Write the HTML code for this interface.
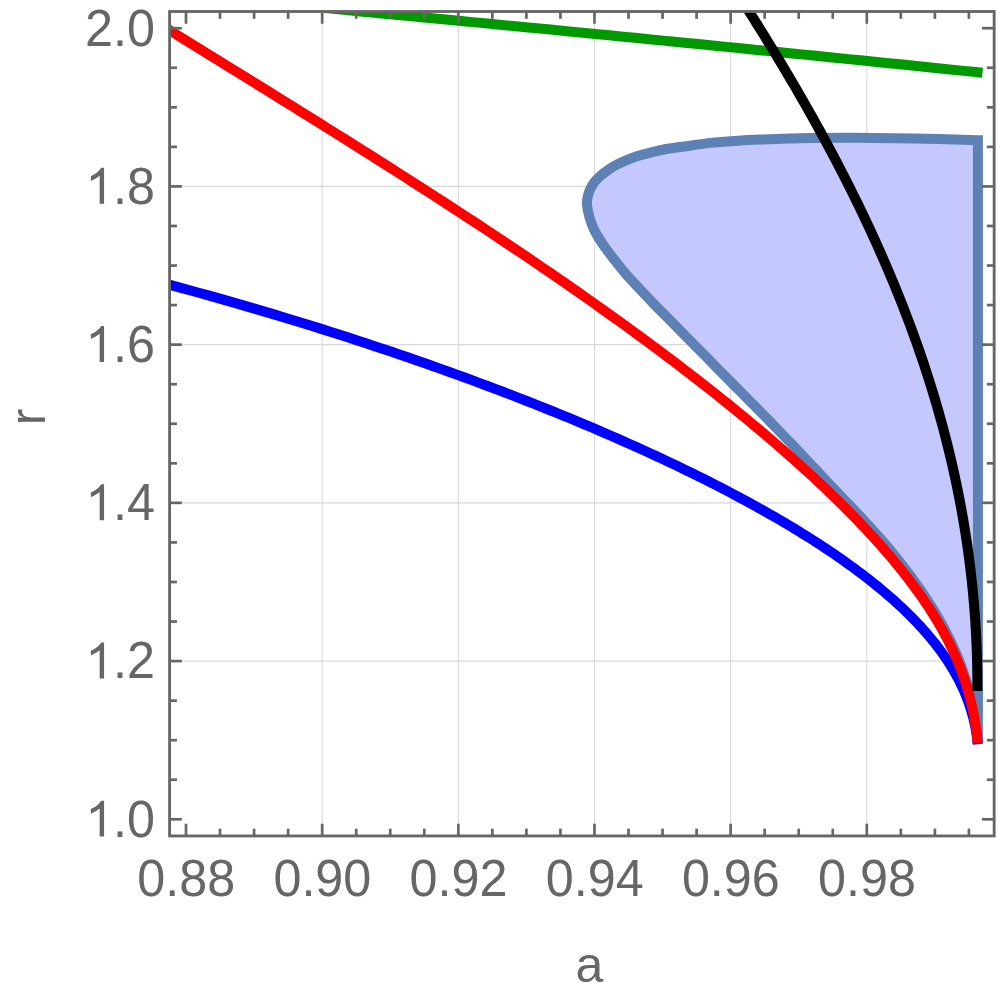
<!DOCTYPE html>
<html><head><meta charset="utf-8"><title>plot</title>
<style>
html,body{margin:0;padding:0;background:#fff;}
body{width:997px;height:997px;overflow:hidden;position:relative;font-family:"Liberation Sans",sans-serif;}
svg{position:absolute;left:0;top:0;display:block}
text{font-family:"Liberation Sans",sans-serif;fill:#666;}
</style></head><body>
<svg width="997" height="997" viewBox="0 0 997 997">
<defs><clipPath id="pc"><rect x="169.60" y="11.50" width="824.55" height="824.45"/></clipPath></defs>
<rect width="997" height="997" fill="#fff"/>
<g stroke="#d8d8d8" stroke-width="1.1"><line x1="322.16" y1="11.50" x2="322.16" y2="835.95"/><line x1="458.32" y1="11.50" x2="458.32" y2="835.95"/><line x1="594.48" y1="11.50" x2="594.48" y2="835.95"/><line x1="730.64" y1="11.50" x2="730.64" y2="835.95"/><line x1="866.80" y1="11.50" x2="866.80" y2="835.95"/><line x1="169.60" y1="186.42" x2="994.15" y2="186.42"/><line x1="169.60" y1="344.64" x2="994.15" y2="344.64"/><line x1="169.60" y1="502.86" x2="994.15" y2="502.86"/><line x1="169.60" y1="661.08" x2="994.15" y2="661.08"/></g>
<g clip-path="url(#pc)" fill="none" stroke-linejoin="miter" stroke-linecap="butt">
<path d="M977.90 140.20 C967.42 139.92 935.87 138.92 915.00 138.50 C894.13 138.08 870.20 137.78 852.70 137.70 C835.20 137.62 825.35 137.68 810.00 138.00 C794.65 138.32 773.10 139.12 760.60 139.60 C748.10 140.08 743.35 140.36 735.00 140.90 C726.65 141.44 718.00 142.05 710.50 142.85 C703.00 143.65 697.58 144.64 690.00 145.70 C682.42 146.76 671.77 148.02 665.00 149.20 C658.23 150.38 653.97 151.65 649.40 152.80 C644.83 153.95 641.48 154.83 637.60 156.10 C633.72 157.37 629.95 158.77 626.10 160.40 C622.25 162.03 617.77 164.12 614.50 165.90 C611.23 167.68 609.08 169.23 606.50 171.10 C603.92 172.97 601.08 175.15 599.00 177.10 C596.92 179.05 595.47 180.78 594.00 182.80 C592.53 184.82 591.18 187.13 590.20 189.20 C589.22 191.27 588.65 192.92 588.10 195.20 C587.55 197.48 586.88 200.10 586.90 202.90 C586.92 205.70 587.57 208.95 588.20 212.00 C588.83 215.05 589.67 218.15 590.70 221.20 C591.73 224.25 592.90 227.25 594.40 230.30 C595.90 233.35 597.75 236.40 599.70 239.50 C601.65 242.60 603.83 245.75 606.10 248.90 C608.37 252.05 610.12 254.35 613.30 258.40 C616.48 262.45 620.67 267.98 625.17 273.19 C629.67 278.40 637.78 286.91 640.30 289.66 L647.82 297.66 L655.35 305.46 L662.86 313.09 L670.31 320.60 L677.68 328.05 L684.97 335.42 L692.18 342.70 L699.31 349.91 L706.36 357.05 L713.31 364.13 L720.18 371.13 L726.98 378.05 L733.72 384.86 L740.40 391.58 L746.99 398.23 L753.51 404.81 L759.93 411.33 L766.27 417.79 L772.51 424.19 L778.66 430.54 L784.71 436.84 L790.68 443.07 L796.57 449.24 L802.37 455.35 L808.08 461.40 L813.72 467.37 L819.27 473.29 L824.73 479.16 L830.14 484.93 L835.55 490.57 L840.90 496.12 L846.18 501.61 L851.37 507.05 L856.48 512.44 L861.51 517.78 L866.45 523.09 L871.27 528.38 L875.98 533.65 L880.58 538.90 L885.08 544.13 L889.48 549.34 L893.76 554.54 L897.95 559.71 L902.02 564.86 L906.00 570.00 L909.86 575.12 L913.63 580.22 L917.28 585.32 L920.84 590.40 L924.29 595.47 L927.63 600.53 L930.87 605.59 L934.00 610.64 L937.03 615.70 L939.95 620.75 L942.76 625.80 L945.47 630.86 L948.07 635.92 L950.57 640.99 L952.96 646.07 L955.24 651.17 L957.41 656.28 L959.47 661.42 L961.43 666.57 L963.27 671.75 L965.01 676.96 L966.64 682.20 L968.17 687.47 L969.59 692.78 L970.91 698.12 L972.13 703.52 L973.25 708.96 L974.26 714.45 L975.19 720.00 L976.01 725.61 L976.74 731.28 L977.37 737.03 L977.90 742.85 L977.9 742.8 L977.9 140.2 Z" fill="#c5c8fe" stroke="#5e81b5" stroke-width="10" stroke-miterlimit="10"/>
<path d="M150.00 279.62 L160.03 282.27 L170.00 284.92 L179.91 287.60 L189.75 290.28 L199.54 292.97 L209.26 295.68 L218.92 298.39 L228.53 301.12 L238.07 303.86 L247.55 306.60 L256.97 309.36 L266.32 312.12 L275.62 314.89 L284.86 317.68 L294.03 320.47 L303.14 323.26 L312.20 326.07 L321.19 328.88 L330.12 331.70 L338.99 334.53 L347.79 337.36 L356.54 340.20 L365.23 343.04 L373.85 345.89 L382.41 348.74 L390.92 351.60 L399.36 354.47 L407.74 357.34 L416.06 360.21 L424.31 363.09 L432.51 365.97 L440.65 368.85 L448.72 371.74 L456.74 374.63 L464.69 377.53 L472.58 380.42 L480.41 383.32 L488.18 386.22 L495.89 389.13 L503.54 392.03 L511.12 394.94 L518.65 397.85 L526.11 400.76 L533.51 403.67 L540.86 406.58 L548.14 409.49 L555.36 412.41 L562.51 415.32 L569.61 418.24 L576.65 421.15 L583.62 424.07 L590.54 426.98 L597.39 429.90 L604.18 432.81 L610.91 435.73 L617.58 438.64 L624.19 441.55 L630.74 444.47 L637.23 447.38 L643.65 450.29 L650.02 453.20 L656.32 456.11 L662.56 459.02 L668.74 461.93 L674.86 464.83 L680.92 467.74 L686.92 470.64 L692.85 473.55 L698.73 476.45 L704.55 479.35 L710.30 482.25 L715.99 485.14 L721.62 488.04 L727.19 490.93 L732.70 493.82 L738.15 496.71 L743.54 499.60 L748.86 502.49 L754.13 505.38 L759.33 508.26 L764.47 511.14 L769.55 514.03 L774.58 516.91 L779.53 519.78 L784.43 522.66 L789.27 525.54 L794.05 528.41 L798.76 531.29 L803.41 534.16 L808.01 537.03 L812.54 539.90 L817.01 542.77 L821.42 545.64 L825.77 548.50 L830.06 551.37 L834.28 554.23 L838.45 557.10 L842.55 559.96 L846.59 562.83 L850.58 565.69 L854.50 568.56 L858.36 571.42 L862.15 574.28 L865.89 577.15 L869.57 580.01 L873.18 582.88 L876.74 585.74 L880.23 588.61 L883.66 591.48 L887.04 594.35 L890.34 597.22 L893.59 600.09 L896.78 602.96 L899.91 605.84 L902.97 608.72 L905.98 611.59 L908.92 614.48 L911.80 617.36 L914.63 620.25 L917.39 623.14 L920.08 626.03 L922.72 628.93 L925.30 631.83 L927.82 634.73 L930.27 637.64 L932.66 640.56 L935.00 643.47 L937.27 646.40 L939.48 649.32 L941.63 652.26 L943.72 655.20 L945.74 658.14 L947.71 661.09 L949.61 664.05 L951.46 667.01 L953.24 669.98 L954.96 672.96 L956.62 675.95 L958.22 678.94 L959.76 681.95 L961.24 684.96 L962.65 687.98 L964.01 691.01 L965.30 694.05 L966.54 697.10 L967.71 700.16 L968.82 703.23 L969.87 706.31 L970.86 709.40 L971.78 712.50 L972.65 715.62 L973.46 718.75 L974.20 721.89 L974.88 725.04 L975.51 728.21 L976.07 731.39 L976.57 734.59 L977.01 737.80 L977.38 741.03 L977.70 744.27" stroke="#0000ff" stroke-width="10"/>
<path d="M150.00 18.04 L159.91 24.20 L169.77 30.32 L179.56 36.40 L189.30 42.44 L198.97 48.44 L208.59 54.39 L218.14 60.31 L227.64 66.19 L237.08 72.03 L246.45 77.84 L255.77 83.61 L265.03 89.35 L274.23 95.05 L283.36 100.73 L292.44 106.37 L301.46 111.98 L310.42 117.56 L319.32 123.11 L328.16 128.63 L336.94 134.13 L345.66 139.60 L354.33 145.04 L362.93 150.45 L371.47 155.84 L379.95 161.21 L388.37 166.55 L396.74 171.86 L405.04 177.15 L413.29 182.42 L421.47 187.67 L429.59 192.90 L437.66 198.10 L445.67 203.28 L453.61 208.44 L461.50 213.58 L469.32 218.70 L477.09 223.80 L484.80 228.87 L492.45 233.93 L500.03 238.97 L507.56 243.99 L515.03 248.99 L522.44 253.97 L529.79 258.94 L537.08 263.88 L544.31 268.81 L551.48 273.71 L558.59 278.60 L565.64 283.48 L572.64 288.33 L579.57 293.17 L586.44 297.98 L593.25 302.78 L600.01 307.57 L606.70 312.33 L613.33 317.08 L619.91 321.81 L626.42 326.52 L632.88 331.22 L639.27 335.90 L645.61 340.56 L651.89 345.20 L658.10 349.83 L664.26 354.44 L670.36 359.03 L676.39 363.60 L682.37 368.16 L688.29 372.70 L694.15 377.22 L699.95 381.72 L705.69 386.21 L711.37 390.68 L716.99 395.13 L722.55 399.57 L728.05 403.98 L733.49 408.39 L738.87 412.77 L744.20 417.13 L749.46 421.48 L754.66 425.81 L759.81 430.13 L764.89 434.42 L769.91 438.70 L774.88 442.96 L779.78 447.21 L784.63 451.43 L789.41 455.65 L794.14 459.84 L798.81 464.02 L803.41 468.17 L807.96 472.32 L812.45 476.44 L816.87 480.55 L821.24 484.65 L825.55 488.73 L829.80 492.79 L833.99 496.83 L838.12 500.86 L842.19 504.88 L846.20 508.88 L850.15 512.86 L854.04 516.84 L857.87 520.79 L861.64 524.73 L865.36 528.66 L869.01 532.58 L872.60 536.48 L876.13 540.37 L879.61 544.24 L883.02 548.11 L886.38 551.96 L889.67 555.80 L892.91 559.63 L896.08 563.46 L899.20 567.27 L902.26 571.07 L905.25 574.87 L908.19 578.65 L911.07 582.43 L913.88 586.20 L916.64 589.97 L919.34 593.73 L921.98 597.49 L924.56 601.24 L927.08 604.99 L929.54 608.74 L931.94 612.49 L934.28 616.24 L936.56 619.98 L938.78 623.73 L940.94 627.48 L943.05 631.24 L945.09 634.99 L947.07 638.76 L949.00 642.53 L950.86 646.31 L952.66 650.09 L954.41 653.89 L956.09 657.70 L957.72 661.52 L959.28 665.35 L960.79 669.20 L962.24 673.07 L963.62 676.95 L964.95 680.86 L966.22 684.78 L967.42 688.73 L968.57 692.70 L969.66 696.70 L970.69 700.72 L971.66 704.78 L972.57 708.86 L973.42 712.98 L974.21 717.13 L974.94 721.32 L975.61 725.55 L976.22 729.81 L976.78 734.12 L977.27 738.47 L977.70 742.87" stroke="#ff0000" stroke-width="10"/>
<path d="M250.00 1.14 C253.13 1.43 262.52 2.30 268.78 2.88 C275.04 3.46 281.30 4.04 287.56 4.63 C293.82 5.21 300.09 5.79 306.35 6.38 C312.61 6.96 318.87 7.55 325.13 8.13 C331.39 8.72 337.65 9.31 343.91 9.89 C350.17 10.48 356.43 11.07 362.69 11.66 C368.95 12.25 375.21 12.84 381.47 13.43 C387.74 14.02 394.00 14.62 400.26 15.21 C406.52 15.80 412.78 16.40 419.04 16.99 C425.30 17.58 431.56 18.18 437.82 18.78 C444.08 19.37 450.34 19.97 456.60 20.57 C462.86 21.17 469.12 21.76 475.38 22.36 C481.65 22.96 487.91 23.56 494.17 24.17 C500.43 24.77 506.69 25.37 512.95 25.97 C519.21 26.58 525.47 27.18 531.73 27.78 C537.99 28.39 544.25 29.00 550.51 29.60 C556.77 30.21 563.03 30.82 569.29 31.42 C575.56 32.03 581.82 32.64 588.08 33.25 C594.34 33.86 600.60 34.47 606.86 35.08 C613.12 35.69 619.38 36.31 625.64 36.92 C631.90 37.53 638.16 38.15 644.42 38.76 C650.68 39.38 656.94 39.99 663.21 40.61 C669.47 41.23 675.73 41.84 681.99 42.46 C688.25 43.08 694.51 43.70 700.77 44.32 C707.03 44.94 713.29 45.56 719.55 46.18 C725.81 46.80 732.07 47.43 738.33 48.05 C744.59 48.67 750.85 49.30 757.12 49.92 C763.38 50.55 769.64 51.17 775.90 51.80 C782.16 52.43 788.42 53.05 794.68 53.68 C800.94 54.31 807.20 54.94 813.46 55.57 C819.72 56.20 825.98 56.83 832.24 57.46 C838.50 58.09 844.76 58.73 851.03 59.36 C857.29 59.99 863.55 60.63 869.81 61.26 C876.07 61.90 882.33 62.53 888.59 63.17 C894.85 63.81 901.11 64.44 907.37 65.08 C913.63 65.72 919.89 66.36 926.15 67.00 C932.41 67.64 938.68 68.28 944.94 68.92 C951.20 69.57 957.46 70.21 963.72 70.85 C969.98 71.50 979.37 72.46 982.50 72.79" stroke="#009900" stroke-width="10"/>
<path d="M738.52 -5.00 L742.28 0.85 L746.02 6.70 L749.74 12.55 L753.43 18.39 L757.11 24.24 L760.76 30.09 L764.39 35.94 L768.00 41.79 L771.58 47.64 L775.14 53.49 L778.68 59.34 L782.19 65.18 L785.68 71.03 L789.15 76.88 L792.59 82.73 L796.01 88.58 L799.40 94.43 L802.76 100.28 L806.10 106.13 L809.41 111.97 L812.70 117.82 L815.96 123.67 L819.19 129.52 L822.39 135.37 L825.57 141.22 L828.72 147.07 L831.84 152.92 L834.93 158.76 L838.00 164.61 L841.03 170.46 L844.04 176.31 L847.02 182.16 L849.96 188.01 L852.88 193.86 L855.77 199.71 L858.62 205.55 L861.45 211.40 L864.25 217.25 L867.01 223.10 L869.75 228.95 L872.45 234.80 L875.12 240.65 L877.76 246.50 L880.37 252.34 L882.94 258.19 L885.48 264.04 L887.99 269.89 L890.47 275.74 L892.92 281.59 L895.33 287.44 L897.71 293.29 L900.06 299.13 L902.37 304.98 L904.65 310.83 L906.89 316.68 L909.11 322.53 L911.28 328.38 L913.43 334.23 L915.54 340.08 L917.61 345.92 L919.65 351.77 L921.66 357.62 L923.63 363.47 L925.57 369.32 L927.47 375.17 L929.34 381.02 L931.17 386.87 L932.97 392.71 L934.73 398.56 L936.46 404.41 L938.15 410.26 L939.80 416.11 L941.42 421.96 L943.01 427.81 L944.56 433.66 L946.07 439.50 L947.55 445.35 L948.99 451.20 L950.40 457.05 L951.77 462.90 L953.11 468.75 L954.41 474.60 L955.67 480.45 L956.90 486.29 L958.09 492.14 L959.24 497.99 L960.36 503.84 L961.45 509.69 L962.50 515.54 L963.51 521.39 L964.48 527.24 L965.42 533.08 L966.33 538.93 L967.20 544.78 L968.03 550.63 L968.83 556.48 L969.59 562.33 L970.31 568.18 L971.00 574.03 L971.65 579.87 L972.27 585.72 L972.86 591.57 L973.40 597.42 L973.91 603.27 L974.39 609.12 L974.83 614.97 L975.24 620.82 L975.61 626.66 L975.95 632.51 L976.25 638.36 L976.51 644.21 L976.74 650.06 L976.94 655.91 L977.10 661.76 L977.23 667.61 L977.32 673.45 L977.38 679.30 L977.41 685.15 L977.40 691.00" stroke="#000000" stroke-width="10"/>
</g>
<g stroke="#666" stroke-width="2.7"><line x1="186.00" y1="835.95" x2="186.00" y2="823.73"/><line x1="186.00" y1="11.50" x2="186.00" y2="23.73"/><line x1="220.04" y1="835.95" x2="220.04" y2="828.63"/><line x1="220.04" y1="11.50" x2="220.04" y2="18.82"/><line x1="254.08" y1="835.95" x2="254.08" y2="828.63"/><line x1="254.08" y1="11.50" x2="254.08" y2="18.82"/><line x1="288.12" y1="835.95" x2="288.12" y2="828.63"/><line x1="288.12" y1="11.50" x2="288.12" y2="18.82"/><line x1="322.16" y1="835.95" x2="322.16" y2="823.73"/><line x1="322.16" y1="11.50" x2="322.16" y2="23.73"/><line x1="356.20" y1="835.95" x2="356.20" y2="828.63"/><line x1="356.20" y1="11.50" x2="356.20" y2="18.82"/><line x1="390.24" y1="835.95" x2="390.24" y2="828.63"/><line x1="390.24" y1="11.50" x2="390.24" y2="18.82"/><line x1="424.28" y1="835.95" x2="424.28" y2="828.63"/><line x1="424.28" y1="11.50" x2="424.28" y2="18.82"/><line x1="458.32" y1="835.95" x2="458.32" y2="823.73"/><line x1="458.32" y1="11.50" x2="458.32" y2="23.73"/><line x1="492.36" y1="835.95" x2="492.36" y2="828.63"/><line x1="492.36" y1="11.50" x2="492.36" y2="18.82"/><line x1="526.40" y1="835.95" x2="526.40" y2="828.63"/><line x1="526.40" y1="11.50" x2="526.40" y2="18.82"/><line x1="560.44" y1="835.95" x2="560.44" y2="828.63"/><line x1="560.44" y1="11.50" x2="560.44" y2="18.82"/><line x1="594.48" y1="835.95" x2="594.48" y2="823.73"/><line x1="594.48" y1="11.50" x2="594.48" y2="23.73"/><line x1="628.52" y1="835.95" x2="628.52" y2="828.63"/><line x1="628.52" y1="11.50" x2="628.52" y2="18.82"/><line x1="662.56" y1="835.95" x2="662.56" y2="828.63"/><line x1="662.56" y1="11.50" x2="662.56" y2="18.82"/><line x1="696.60" y1="835.95" x2="696.60" y2="828.63"/><line x1="696.60" y1="11.50" x2="696.60" y2="18.82"/><line x1="730.64" y1="835.95" x2="730.64" y2="823.73"/><line x1="730.64" y1="11.50" x2="730.64" y2="23.73"/><line x1="764.68" y1="835.95" x2="764.68" y2="828.63"/><line x1="764.68" y1="11.50" x2="764.68" y2="18.82"/><line x1="798.72" y1="835.95" x2="798.72" y2="828.63"/><line x1="798.72" y1="11.50" x2="798.72" y2="18.82"/><line x1="832.76" y1="835.95" x2="832.76" y2="828.63"/><line x1="832.76" y1="11.50" x2="832.76" y2="18.82"/><line x1="866.80" y1="835.95" x2="866.80" y2="823.73"/><line x1="866.80" y1="11.50" x2="866.80" y2="23.73"/><line x1="900.84" y1="835.95" x2="900.84" y2="828.63"/><line x1="900.84" y1="11.50" x2="900.84" y2="18.82"/><line x1="934.88" y1="835.95" x2="934.88" y2="828.63"/><line x1="934.88" y1="11.50" x2="934.88" y2="18.82"/><line x1="968.92" y1="835.95" x2="968.92" y2="828.63"/><line x1="968.92" y1="11.50" x2="968.92" y2="18.82"/><line x1="169.60" y1="28.20" x2="181.83" y2="28.20"/><line x1="994.15" y1="28.20" x2="981.93" y2="28.20"/><line x1="169.60" y1="67.76" x2="176.93" y2="67.76"/><line x1="994.15" y1="67.76" x2="986.83" y2="67.76"/><line x1="169.60" y1="107.31" x2="176.93" y2="107.31"/><line x1="994.15" y1="107.31" x2="986.83" y2="107.31"/><line x1="169.60" y1="146.87" x2="176.93" y2="146.87"/><line x1="994.15" y1="146.87" x2="986.83" y2="146.87"/><line x1="169.60" y1="186.42" x2="181.83" y2="186.42"/><line x1="994.15" y1="186.42" x2="981.93" y2="186.42"/><line x1="169.60" y1="225.97" x2="176.93" y2="225.97"/><line x1="994.15" y1="225.97" x2="986.83" y2="225.97"/><line x1="169.60" y1="265.53" x2="176.93" y2="265.53"/><line x1="994.15" y1="265.53" x2="986.83" y2="265.53"/><line x1="169.60" y1="305.09" x2="176.93" y2="305.09"/><line x1="994.15" y1="305.09" x2="986.83" y2="305.09"/><line x1="169.60" y1="344.64" x2="181.83" y2="344.64"/><line x1="994.15" y1="344.64" x2="981.93" y2="344.64"/><line x1="169.60" y1="384.19" x2="176.93" y2="384.19"/><line x1="994.15" y1="384.19" x2="986.83" y2="384.19"/><line x1="169.60" y1="423.75" x2="176.93" y2="423.75"/><line x1="994.15" y1="423.75" x2="986.83" y2="423.75"/><line x1="169.60" y1="463.31" x2="176.93" y2="463.31"/><line x1="994.15" y1="463.31" x2="986.83" y2="463.31"/><line x1="169.60" y1="502.86" x2="181.83" y2="502.86"/><line x1="994.15" y1="502.86" x2="981.93" y2="502.86"/><line x1="169.60" y1="542.42" x2="176.93" y2="542.42"/><line x1="994.15" y1="542.42" x2="986.83" y2="542.42"/><line x1="169.60" y1="581.97" x2="176.93" y2="581.97"/><line x1="994.15" y1="581.97" x2="986.83" y2="581.97"/><line x1="169.60" y1="621.53" x2="176.93" y2="621.53"/><line x1="994.15" y1="621.53" x2="986.83" y2="621.53"/><line x1="169.60" y1="661.08" x2="181.83" y2="661.08"/><line x1="994.15" y1="661.08" x2="981.93" y2="661.08"/><line x1="169.60" y1="700.64" x2="176.93" y2="700.64"/><line x1="994.15" y1="700.64" x2="986.83" y2="700.64"/><line x1="169.60" y1="740.19" x2="176.93" y2="740.19"/><line x1="994.15" y1="740.19" x2="986.83" y2="740.19"/><line x1="169.60" y1="779.75" x2="176.93" y2="779.75"/><line x1="994.15" y1="779.75" x2="986.83" y2="779.75"/><line x1="169.60" y1="819.30" x2="181.83" y2="819.30"/><line x1="994.15" y1="819.30" x2="981.93" y2="819.30"/></g>
<rect x="169.60" y="11.50" width="824.55" height="824.45" fill="none" stroke="#666" stroke-width="2.85"/>
<text transform="translate(186.20,896.20) scale(1,1.012)" font-size="50.3" text-anchor="middle">0.88</text>
<text transform="translate(322.36,896.20) scale(1,1.012)" font-size="50.3" text-anchor="middle">0.90</text>
<text transform="translate(458.52,896.20) scale(1,1.012)" font-size="50.3" text-anchor="middle">0.92</text>
<text transform="translate(594.68,896.20) scale(1,1.012)" font-size="50.3" text-anchor="middle">0.94</text>
<text transform="translate(730.84,896.20) scale(1,1.012)" font-size="50.3" text-anchor="middle">0.96</text>
<text transform="translate(867.00,896.20) scale(1,1.012)" font-size="50.3" text-anchor="middle">0.98</text>
<text transform="translate(155.00,45.50) scale(1,1.012)" font-size="50.3" text-anchor="end">2.0</text>
<path transform="translate(90.78,203.72)" fill="#666" d="M13.29 -35.86L13.29 0L8.88 0L8.88 -28.08Q4.77 -24.82 0.15 -22.82L0 -27.58Q6.77 -30.34 10.53 -35.86Z"/>
<text transform="translate(155.00,203.72) scale(1,1.012)" font-size="50.3" text-anchor="end">.8</text>
<path transform="translate(90.78,361.94)" fill="#666" d="M13.29 -35.86L13.29 0L8.88 0L8.88 -28.08Q4.77 -24.82 0.15 -22.82L0 -27.58Q6.77 -30.34 10.53 -35.86Z"/>
<text transform="translate(155.00,361.94) scale(1,1.012)" font-size="50.3" text-anchor="end">.6</text>
<path transform="translate(90.78,520.16)" fill="#666" d="M13.29 -35.86L13.29 0L8.88 0L8.88 -28.08Q4.77 -24.82 0.15 -22.82L0 -27.58Q6.77 -30.34 10.53 -35.86Z"/>
<text transform="translate(155.00,520.16) scale(1,1.012)" font-size="50.3" text-anchor="end">.4</text>
<path transform="translate(90.78,678.38)" fill="#666" d="M13.29 -35.86L13.29 0L8.88 0L8.88 -28.08Q4.77 -24.82 0.15 -22.82L0 -27.58Q6.77 -30.34 10.53 -35.86Z"/>
<text transform="translate(155.00,678.38) scale(1,1.012)" font-size="50.3" text-anchor="end">.2</text>
<path transform="translate(90.78,836.60)" fill="#666" d="M13.29 -35.86L13.29 0L8.88 0L8.88 -28.08Q4.77 -24.82 0.15 -22.82L0 -27.58Q6.77 -30.34 10.53 -35.86Z"/>
<text transform="translate(155.00,836.60) scale(1,1.012)" font-size="50.3" text-anchor="end">.0</text>
<text x="589.5" y="981.8" font-size="50" text-anchor="middle">a</text>
<text transform="translate(45,417) rotate(-90)" font-size="50" text-anchor="middle">r</text>
</svg>
</body></html>
